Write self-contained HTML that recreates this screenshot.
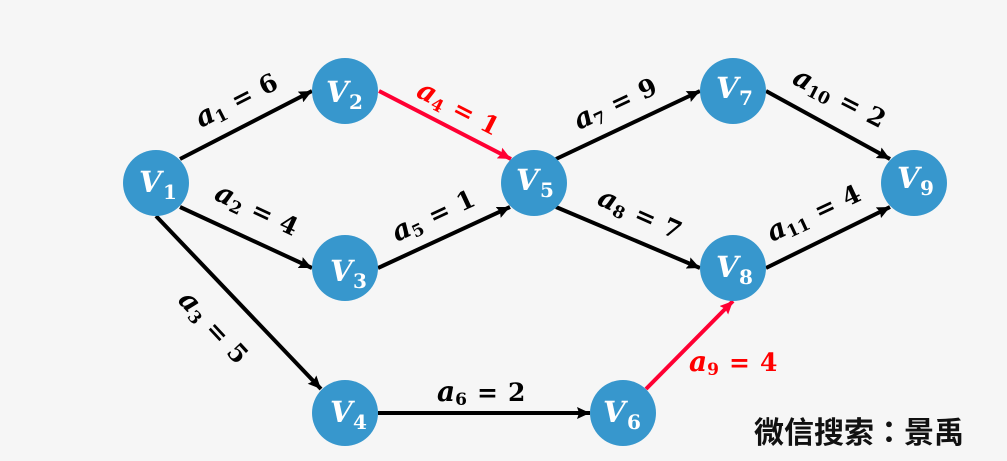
<!DOCTYPE html>
<html><head><meta charset="utf-8"><style>
html,body{margin:0;padding:0;background:#f6f6f6;width:1007px;height:461px;overflow:hidden}
svg{display:block}
text{font-family:"DejaVu Serif","Liberation Serif",serif;font-weight:bold}
.v{fill:#fff;font-size:29px;font-style:italic}
.vs{fill:#fff;font-size:20px}
.l{font-size:25px}
.i{font-style:italic;font-size:28px}
.s{font-size:17px}
.r{fill:#f00}
</style></head><body>
<svg width="1007" height="461" viewBox="0 0 1007 461" xmlns="http://www.w3.org/2000/svg">
<rect width="1007" height="461" fill="#f6f6f6"/>
<defs>
<marker id="k" markerUnits="userSpaceOnUse" markerWidth="14" markerHeight="12" refX="13" refY="6" orient="auto"><path d="M0 0L13 6L0 12L2 6Z" fill="#000"/></marker>
<marker id="h" markerUnits="userSpaceOnUse" markerWidth="14" markerHeight="12" refX="13" refY="6" orient="auto"><path d="M0 0L13 6L0 12L2 6Z" fill="#ff0033"/></marker>
</defs>
<g stroke="#000" stroke-width="4" fill="none">
<line x1="180" y1="159" x2="312" y2="91" marker-end="url(#k)"/>
<line x1="180" y1="207" x2="312" y2="268" marker-end="url(#k)"/>
<line x1="156" y1="216" x2="321" y2="389" marker-end="url(#k)"/>
<line x1="378" y1="268" x2="510" y2="207" marker-end="url(#k)"/>
<line x1="378" y1="413" x2="590" y2="413" marker-end="url(#k)"/>
<line x1="556" y1="159" x2="700" y2="91" marker-end="url(#k)"/>
<line x1="556" y1="207" x2="700" y2="268" marker-end="url(#k)"/>
<line x1="766" y1="91" x2="890" y2="159" marker-end="url(#k)"/>
<line x1="766" y1="268" x2="890" y2="207" marker-end="url(#k)"/>
</g>
<g stroke="#ff0033" stroke-width="4" fill="none">
<line x1="379" y1="91" x2="511" y2="159" marker-end="url(#h)"/>
<line x1="646" y1="389" x2="733" y2="301" marker-end="url(#h)"/>
</g>
<g fill="#3797cd">
<circle cx="156" cy="183" r="33"/><circle cx="345" cy="91" r="33"/><circle cx="345" cy="268" r="33"/><circle cx="345" cy="413" r="33"/><circle cx="534" cy="183" r="33"/><circle cx="623" cy="413" r="33"/><circle cx="733" cy="91" r="33"/><circle cx="733" cy="268" r="33"/><circle cx="914" cy="183" r="33"/>
</g>
<text class="v" x="139" y="192">V</text><text class="vs" x="163" y="199">1</text>
<text class="v" x="326" y="102">V</text><text class="vs" x="349" y="109">2</text>
<text class="v" x="330" y="281">V</text><text class="vs" x="353" y="288">3</text>
<text class="v" x="330" y="422">V</text><text class="vs" x="353" y="429">4</text>
<text class="v" x="516" y="190">V</text><text class="vs" x="540" y="197">5</text>
<text class="v" x="603" y="422">V</text><text class="vs" x="627" y="429">6</text>
<text class="v" x="716" y="98">V</text><text class="vs" x="739" y="105">7</text>
<text class="v" x="716" y="277">V</text><text class="vs" x="739" y="284">8</text>
<text class="v" x="897" y="188">V</text><text class="vs" x="920" y="195">9</text>
<g class="l">
<text transform="translate(201 128) rotate(-27)"><tspan class="i">a</tspan><tspan class="s" dy="4">1</tspan><tspan dy="-4" dx="10">=</tspan><tspan dx="10">6</tspan></text>
<text transform="translate(213 199) rotate(25)"><tspan class="i">a</tspan><tspan class="s" dy="4">2</tspan><tspan dy="-4" dx="10">=</tspan><tspan dx="10">4</tspan></text>
<text transform="translate(177 301) rotate(47)"><tspan class="i">a</tspan><tspan class="s" dy="4">3</tspan><tspan dy="-4" dx="10">=</tspan><tspan dx="10">5</tspan></text>
<text class="r" transform="translate(415 96) rotate(27)"><tspan class="i">a</tspan><tspan class="s" dy="4">4</tspan><tspan dy="-4" dx="10">=</tspan><tspan dx="10">1</tspan></text>
<text transform="translate(397 242) rotate(-25)"><tspan class="i">a</tspan><tspan class="s" dy="4">5</tspan><tspan dy="-4" dx="10">=</tspan><tspan dx="10">1</tspan></text>
<text transform="translate(437 401)"><tspan class="i">a</tspan><tspan class="s" dy="4">6</tspan><tspan dy="-4" dx="10">=</tspan><tspan dx="10">2</tspan></text>
<text transform="translate(579 130) rotate(-25)"><tspan class="i">a</tspan><tspan class="s" dy="4">7</tspan><tspan dy="-4" dx="10">=</tspan><tspan dx="10">9</tspan></text>
<text transform="translate(596 204) rotate(24)"><tspan class="i">a</tspan><tspan class="s" dy="4">8</tspan><tspan dy="-4" dx="10">=</tspan><tspan dx="10">7</tspan></text>
<text class="r" transform="translate(689 371)"><tspan class="i">a</tspan><tspan class="s" dy="4">9</tspan><tspan dy="-4" dx="10">=</tspan><tspan dx="10">4</tspan></text>
<text transform="translate(791 83) rotate(27)"><tspan class="i">a</tspan><tspan class="s" dy="4">10</tspan><tspan dy="-4" dx="10">=</tspan><tspan dx="10">2</tspan></text>
<text transform="translate(772 242) rotate(-25)"><tspan class="i">a</tspan><tspan class="s" dy="4">11</tspan><tspan dy="-4" dx="10">=</tspan><tspan dx="10">4</tspan></text>
</g>
<text x="754" y="443" style="font-family:'Liberation Sans','Noto Sans CJK SC',sans-serif;font-size:30px;font-weight:bold" fill="#111">微信搜索<tspan style="font-family:'Noto Sans CJK JP',sans-serif">：</tspan>景禹</text>
</svg>
</body></html>
